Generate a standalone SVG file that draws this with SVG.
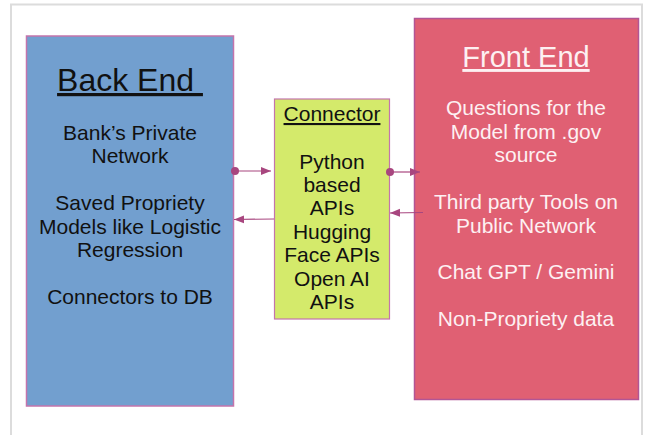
<svg xmlns="http://www.w3.org/2000/svg" width="646" height="435" viewBox="0 0 646 435">
<style>
text{font-family:"Liberation Sans",Arial,sans-serif;text-anchor:middle}
.b{font-size:21px;fill:#111}
.w{font-size:21px;fill:#fdf0f2}
.u{text-decoration:underline;white-space:pre}
.ln{stroke:#a8467f;stroke-width:1.2;fill:none}
</style>
<defs>
<marker id="ah" viewBox="0 0 10 10" refX="10" refY="5" markerWidth="10" markerHeight="10" markerUnits="userSpaceOnUse" orient="auto">
<path d="M0,1 L10,5 L0,9 Z" fill="#a8467f"/>
</marker>
<marker id="dot" viewBox="0 0 10 10" refX="5" refY="5" markerWidth="8" markerHeight="8" markerUnits="userSpaceOnUse">
<circle cx="5" cy="5" r="5" fill="#a8467f"/>
</marker>
</defs>
<rect x="0" y="0" width="646" height="435" fill="#fff"/>
<rect x="11" y="4.5" width="631" height="440" fill="#fff" stroke="#dcdcdc" stroke-width="2"/>
<g id="backend">
<rect x="26.5" y="36" width="207" height="370" fill="#729fcf" stroke="#c474ac" stroke-width="1.5"/>
<text x="130" y="91" class="u" style="font-size:32px;fill:#111">Back End </text>
<text class="b" x="130"><tspan x="130" y="140">Bank’s Private</tspan><tspan x="130" y="163.4">Network</tspan><tspan x="130" y="210">Saved Propriety</tspan><tspan x="130" y="233.5">Models like Logistic</tspan><tspan x="130" y="257">Regression</tspan><tspan x="130" y="304">Connectors to DB</tspan></text>
</g>
<g id="connector">
<rect x="274.5" y="99" width="115" height="220" fill="#d4ea6b" stroke="#c474ac" stroke-width="1.2"/>
<text x="332" y="121" class="b u">Connector</text>
<text class="b"><tspan x="332" y="168.5">Python</tspan><tspan x="332" y="192">based</tspan><tspan x="332" y="215">APIs</tspan><tspan x="332" y="238.5">Hugging</tspan><tspan x="332" y="262">Face APIs</tspan><tspan x="332" y="285.5">Open AI</tspan><tspan x="332" y="308.5">APIs</tspan></text>
</g>
<g id="frontend">
<rect x="414.5" y="18.5" width="224" height="381" fill="#e06073" stroke="#b25595" stroke-width="1.5"/>
<text x="526" y="67" class="u" style="font-size:29px;fill:#fdf0f2">Front End</text>
<text class="w"><tspan x="526" y="115">Questions for the</tspan><tspan x="526" y="138.5">Model from .gov</tspan><tspan x="526" y="162">source</tspan><tspan x="526" y="209">Third party Tools on</tspan><tspan x="526" y="232.5">Public Network</tspan><tspan x="526" y="279">Chat GPT / Gemini</tspan><tspan x="526" y="326">Non-Propriety data</tspan></text>
</g>
<g id="connectors">
<line class="ln" x1="235" y1="171" x2="271" y2="171" marker-start="url(#dot)" marker-end="url(#ah)"/>
<line class="ln" x1="274" y1="219" x2="234" y2="219.5" marker-end="url(#ah)"/>
<line class="ln" x1="390" y1="172" x2="420" y2="172" marker-start="url(#dot)" marker-end="url(#ah)"/>
<line class="ln" x1="423" y1="212.5" x2="390" y2="213" marker-end="url(#ah)"/>
</g>
</svg>
